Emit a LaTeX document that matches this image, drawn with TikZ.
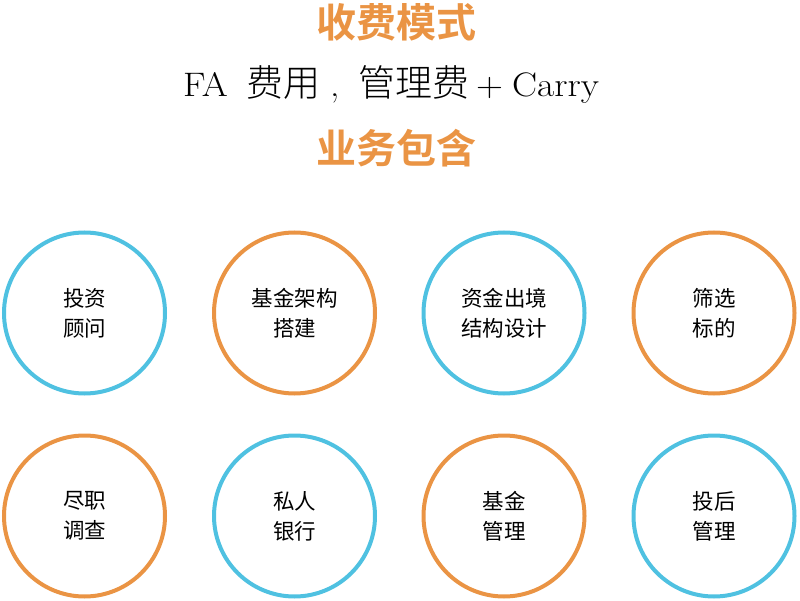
\documentclass[tikz,border=0pt]{standalone}
\usepackage{fontspec}
\newfontfamily\cjk{Noto Sans CJK SC}
\newfontfamily\cjkl{Noto Sans CJK SC Light}
\newfontfamily\cjkb{Noto Sans CJK SC Bold}
\newfontfamily\wide[FakeStretch=1.1]{Latin Modern Roman}
\definecolor{cblue}{HTML}{4FC1E1}
\definecolor{corange}{HTML}{EA9444}
\begin{document}
\begin{tikzpicture}[x=1pt,y=-1pt,
  ring/.style={circle,draw=#1,line width=4pt,minimum size=161pt,inner sep=0pt,
    align=center,font=\cjk\fontsize{21.5}{30}\selectfont,text=black},
  title/.style={font=\cjkb\fontsize{40}{43}\selectfont,text=corange},
  lat/.style={anchor=base west,inner sep=0pt,font=\wide\fontsize{34}{38}\selectfont},
  han/.style={anchor=base west,inner sep=0pt,font=\cjkl\fontsize{37}{40}\selectfont}]
\useasboundingbox (0,0) rectangle (800,601);
\node[title] (t1) at (396,22) {收费模式};
\node[lat] (fa) at (183,97) {FA};
\node[han] (fy) at (246,97) {费用};
\node[lat] (cm) at (330,97) {,};
\node[han] (gl) at (358,97) {管理费};
\node[lat] (pl) at (476,97) {+};
\node[lat] (ca) at (512,97) {Carry};
\node[title] (t3) at (396,148) {业务包含};
\node[ring=cblue] (a1) at (84.5,313) {投资\\顾问};
\node[ring=corange] (a2) at (294.5,313) {基金架构\\搭建};
\node[ring=cblue] (a3) at (504,313) {资金出境\\结构设计};
\node[ring=corange] (a4) at (714,313) {筛选\\标的};
\node[ring=corange] (b1) at (84.5,516) {尽职\\调查};
\node[ring=cblue] (b2) at (294.5,516) {私人\\银行};
\node[ring=corange] (b3) at (504,516) {基金\\管理};
\node[ring=cblue] (b4) at (714,516) {投后\\管理};
\end{tikzpicture}
\end{document}
